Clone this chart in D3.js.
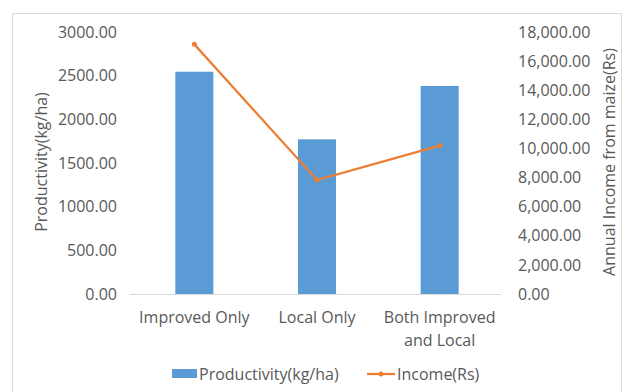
<!DOCTYPE html>
<html>
<head>
<meta charset="utf-8">
<script src="https://cdn.jsdelivr.net/npm/d3@7"></script>
<style>
  body { margin: 0; background: #fff; }
  text { font-family: "Open Sans", sans-serif; fill: #595959; }
</style>
</head>
<body>
<div id="chart"></div>
<script>
// data
var categories = ["Improved Only", "Local Only", "Both Improved|and Local"];
var productivity = [2545, 1771, 2382];
var income = [17150, 7830, 10190];
var leftTicks = [0, 500, 1000, 1500, 2000, 2500, 3000];
var rightTicks = [0, 2000, 4000, 6000, 8000, 10000, 12000, 14000, 16000, 18000];

var W = 633, H = 392;
var fs = 16;
var margin = {top: 32, right: 132, bottom: 98, left: 133},
    width = W - margin.left - margin.right,
    height = H - margin.top - margin.bottom;

var svg = d3.select("#chart")
    .append("svg")
    .attr("width", W)
    .attr("height", H);

// chart frame
svg.append("rect")
    .attr("x", 12.5).attr("y", 13.5)
    .attr("width", 609).attr("height", 380)
    .attr("fill", "none")
    .attr("stroke", "#d9d9d9");

var g = svg.append("g")
    .attr("transform", "translate(" + margin.left + "," + margin.top + ")");

var x = d3.scaleBand()
    .domain(categories)
    .range([0, width])
    .paddingInner(0.69)
    .paddingOuter(0.345);

var y = d3.scaleLinear().domain([0, 3000]).range([height, 0]);
var y2 = d3.scaleLinear().domain([0, 18000]).range([height, 0]);

// left axis
var yAxis = g.append("g")
    .call(d3.axisLeft(y).tickValues(leftTicks).tickFormat(d3.format(".2f")).tickSize(0).tickPadding(16));
yAxis.select(".domain").remove();

// right axis
var fmt = d3.format(",.2f");
var yAxis2 = g.append("g")
    .attr("transform", "translate(" + width + ",0)")
    .call(d3.axisRight(y2).tickValues(rightTicks).tickFormat(fmt).tickSize(0).tickPadding(17));
yAxis2.select(".domain").remove();

svg.selectAll(".tick text")
    .attr("font-family", "Open Sans")
    .attr("font-size", fs)
    .attr("fill", "#595959");

// bars
g.selectAll(".bar")
    .data(productivity)
    .enter()
    .append("rect")
    .attr("class", "bar")
    .attr("x", function(d, i) { return x(categories[i]); })
    .attr("y", function(d) { return y(d); })
    .attr("width", x.bandwidth())
    .attr("height", function(d) { return height - y(d); })
    .attr("fill", "#5b9bd5");

// baseline
g.append("line")
    .attr("x1", -3).attr("x2", width)
    .attr("y1", height + 0.5).attr("y2", height + 0.5)
    .attr("stroke", "#d9d9d9");

// x labels
var xl = g.append("g").selectAll("text")
    .data(categories)
    .enter()
    .append("text")
    .attr("text-anchor", "middle")
    .attr("font-size", fs)
    .attr("transform", function(d) { return "translate(" + (x(d) + x.bandwidth() / 2) + "," + (height + 29) + ")"; });
xl.each(function(d) {
  var parts = d.split("|");
  var t = d3.select(this);
  parts.forEach(function(p, k) {
    t.append("tspan").attr("x", 0).attr("dy", k === 0 ? 0 : 23).text(p);
  });
});

// income line
var line = d3.line()
    .x(function(d, i) { return x(categories[i]) + x.bandwidth() / 2; })
    .y(function(d) { return y2(d); });

g.append("path")
    .datum(income)
    .attr("d", line)
    .attr("fill", "none")
    .attr("stroke", "#ed7d31")
    .attr("stroke-width", 2.25);

g.selectAll(".pt")
    .data(income)
    .enter()
    .append("circle")
    .attr("cx", function(d, i) { return x(categories[i]) + x.bandwidth() / 2; })
    .attr("cy", function(d) { return y2(d); })
    .attr("r", 2.5)
    .attr("fill", "#ed7d31");

// axis titles
svg.append("text")
    .attr("text-anchor", "middle")
    .attr("transform", "translate(47,162) rotate(-90)")
    .attr("font-size", fs)
    .text("Productivity(kg/ha)");

svg.append("text")
    .attr("text-anchor", "middle")
    .attr("transform", "translate(615,162) rotate(-90)")
    .attr("font-size", fs)
    .text("Annual Income from maize(Rs)");

// legend
var leg = svg.append("g").attr("transform", "translate(0,374)");
leg.append("rect")
    .attr("x", 172).attr("y", -5)
    .attr("width", 25).attr("height", 9)
    .attr("fill", "#5b9bd5");
leg.append("text")
    .attr("x", 199).attr("y", 6)
    .attr("font-size", fs)
    .text("Productivity(kg/ha)");
leg.append("line")
    .attr("x1", 367).attr("x2", 395)
    .attr("y1", 0).attr("y2", 0)
    .attr("stroke", "#ed7d31")
    .attr("stroke-width", 2.25);
leg.append("circle")
    .attr("cx", 381).attr("cy", 0).attr("r", 2.5)
    .attr("fill", "#ed7d31");
leg.append("text")
    .attr("x", 397).attr("y", 6)
    .attr("font-size", fs)
    .text("Income(Rs)");
</script>
</body>
</html>
